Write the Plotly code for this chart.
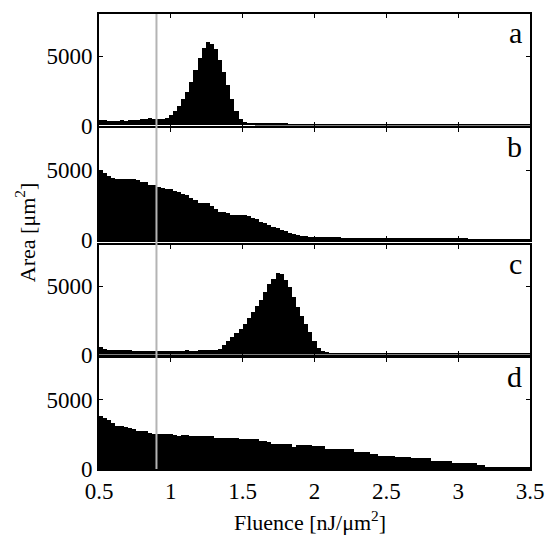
import numpy as np
import plotly.graph_objects as go

# ---------------- data ----------------
x_min, x_max = 0.5, 3.5
n_bins = 105
bin_width = (x_max - x_min) / n_bins
fluence = x_min + bin_width * (np.arange(n_bins) + 0.5)   # bin centres

area_a = ([380, 330, 320, 320, 320, 330, 320, 330, 340, 340,
           450, 400, 470, 430, 420, 440, 500, 730, 1020, 1380,
           1900, 2400, 3100, 4000, 4800, 5550, 6000, 5850, 5450, 4650,
           3850, 2900, 1900, 1000, 450, 240, 180, 150]
          + [140, 130, 130, 120, 120, 110, 110, 110, 100, 100, 100, 90, 90, 90]
          + [90, 85, 85, 80, 80, 80, 75, 75, 75, 70, 70, 70, 65, 65, 65, 60, 60, 60]
          + [15] * 35)

area_b = ([4930, 4810, 4570, 4450, 4330, 4370, 4380, 4380, 4380, 4280,
           4150, 4140, 3950, 3900, 3750, 3700, 3620, 3620, 3500, 3430,
           3300, 3190, 3020, 2860, 2650, 2620, 2600, 2430, 2200, 2020,
           1960, 1900, 1790, 1760, 1770, 1750, 1680, 1580, 1480, 1300,
           1180, 1050, 950, 820, 720, 600, 500, 420, 350, 300,
           260, 230]
          + [210, 200, 200, 190, 180, 180, 170, 160]
          + [140, 135, 130, 130, 125, 120, 120, 115, 110, 110,
             105, 100, 100, 95, 95, 90, 90, 85, 85, 80,
             80, 75, 75, 70, 70, 70, 65, 65, 60, 60]
          + [10] * 15)

area_c = ([520, 420, 350, 340, 340, 330, 330, 320, 290]
          + [270, 270, 265, 270, 275, 270, 280, 285, 290, 280, 275, 280, 300, 290, 285]
          + [310, 320, 320, 330, 340]
          + [400, 700, 990, 1310, 1600, 1900, 2250, 2650, 3100, 3550,
             4000, 4550, 5150, 5500, 5960, 5850, 5450, 4900, 4200, 3500,
             2850, 2200, 1650, 1000, 450, 250, 180, 145, 140, 120]
          + [50] * 46)

area_d = ([3800, 3680, 3510, 3280, 3110, 3080, 3040, 2920, 2850, 2750,
           2750, 2750, 2550, 2530, 2530, 2530, 2530, 2520, 2440, 2340,
           2440, 2430, 2340, 2340, 2330, 2370, 2370, 2360, 2200, 2200,
           2210, 2200, 2200, 2190, 2170, 2150, 2150, 2140, 2130, 2010,
           2010, 1900, 1770, 1770, 1770, 1760, 1750, 1530, 1670, 1670,
           1670, 1670, 1660, 1660, 1650, 1410, 1410, 1410, 1400, 1400,
           1400, 1390, 1170, 1170, 1170, 1160, 1050, 1050, 880, 880,
           880, 880, 870, 870, 870, 860, 760, 760, 760, 760,
           750, 570, 570, 570, 570, 560, 410, 410, 410, 410,
           410, 400, 290, 290]
          + [120, 120, 120, 115, 115, 110, 110, 110, 105, 100, 100])

panels = [("a", area_a), ("b", area_b), ("c", area_c), ("d", area_d)]
x_ticks = [0.5, 1, 1.5, 2, 2.5, 3, 3.5]
x_tick_text = ["0.5", "1", "1.5", "2", "2.5", "3", "3.5"]
y_ticks = [0, 5000]
y_range = [0, 8000]
marker_fluence = 0.9

# ---------------- figure ----------------
W, H = 556, 540
ml, mr, mt, mb = 99, 21, 12, 71
font = "Liberation Serif"

rows_px = [(12.5, 124), (126.7, 239), (244, 354), (358, 469)]
plot_h = H - mt - mb
def dom(top, bot):
    return [(H - mb - bot) / plot_h, (H - mb - top) / plot_h]

fig = go.Figure()
for i, (lab, vals) in enumerate(panels):
    n = i + 1
    xa = "x" if n == 1 else f"x{n}"
    ya = "y" if n == 1 else f"y{n}"
    vals = list(vals)[:n_bins] + [0] * max(0, n_bins - len(vals))
    fig.add_trace(go.Bar(x=fluence, y=vals, width=bin_width,
                         marker=dict(color="black", line=dict(width=0)),
                         xaxis=xa, yaxis=ya, showlegend=False,
                         hoverinfo="skip"))
    d = dom(*rows_px[i])
    axis_common = dict(showline=True, linecolor="black", linewidth=2,
                       mirror="ticks", ticks="inside", ticklen=4,
                       tickcolor="black", tickwidth=1, showgrid=False,
                       zeroline=False,
                       tickfont=dict(family=font, size=23, color="black"))
    fig.layout[f"xaxis{'' if n == 1 else n}"] = dict(
        domain=[0, 1], range=[x_min, x_max], anchor=ya,
        tickvals=x_ticks, ticktext=x_tick_text,
        showticklabels=(n == 4), **axis_common)
    fig.layout[f"yaxis{'' if n == 1 else n}"] = dict(
        domain=d, range=y_range, anchor=xa, tickvals=y_ticks,
        ticktext=[str(v) for v in y_ticks], **axis_common)
    fig.add_annotation(text=lab, xref=f"{xa} domain", yref=f"{ya} domain",
                       x=0.985, y=1.0, xanchor="right", yanchor="top",
                       showarrow=False,
                       font=dict(family=font, size=30, color="black"))

fig.add_shape(type="line", xref="x", yref="paper",
              x0=marker_fluence, x1=marker_fluence, y0=0, y1=1,
              line=dict(color="#b4b4b4", width=2), layer="above")

fig.add_annotation(text="Fluence [nJ/μm<sup>2</sup>]", xref="paper", yref="paper",
                   x=0.49, y=-0.08, xanchor="center", yanchor="top",
                   showarrow=False, font=dict(family=font, size=22, color="black"))
fig.add_annotation(text="Area [μm<sup>2</sup>]", xref="paper", yref="paper",
                   x=-0.17, y=0.52, xanchor="center", yanchor="middle",
                   textangle=-90, showarrow=False,
                   font=dict(family=font, size=22, color="black"))

fig.update_layout(width=W, height=H, bargap=0,
                  margin=dict(l=ml, r=mr, t=mt, b=mb),
                  paper_bgcolor="white", plot_bgcolor="white")

fig.write_html("out.html", config={"displayModeBar": False},
               post_script="document.body.style.margin='0';document.body.style.padding='0';")
